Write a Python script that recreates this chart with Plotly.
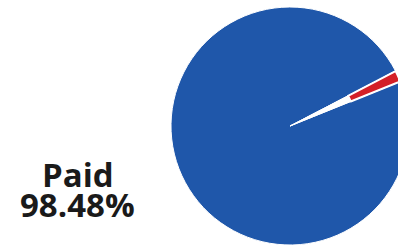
import plotly.graph_objects as go

labels = ["Paid", "Unpaid"]
values = [98.48, 1.52]
colors = ["#1f57aa", "#d42027"]
headline_label = "Paid"
headline_value = "98.48%"

W, H = 410, 247
cx, cy, r = 290, 126, 119
rot = 68

dom_x = [(cx - r) / W, (cx + r) / W]
dom_y = [(H - cy - r) / H, (H - cy + r) / H]

fig = go.Figure()
fig.add_trace(go.Pie(
    labels=labels, values=values, sort=False, direction="clockwise",
    rotation=rot, textinfo="none", hoverinfo="skip", showlegend=False,
    marker=dict(colors=[colors[0], "white"], line=dict(color="white", width=1)),
    domain=dict(x=dom_x, y=dom_y),
))
fig.add_trace(go.Pie(
    labels=labels, values=values, sort=False, direction="clockwise",
    rotation=rot, textinfo="none", hoverinfo="skip", showlegend=False, hole=0.55,
    marker=dict(colors=["rgba(0,0,0,0)", colors[1]],
                line=dict(color=["rgba(0,0,0,0)", "white"], width=[0, 2])),
    domain=dict(x=dom_x, y=dom_y),
))

font = dict(family="Open Sans", size=33, color="#1a1a1a")
fig.add_annotation(text=f"<b>{headline_label}</b>", x=77.5 / W, y=(H - 174) / H,
                   xref="paper", yref="paper", showarrow=False,
                   xanchor="center", yanchor="middle", font=font)
fig.add_annotation(text=f"<b>{headline_value}</b>", x=77.5 / W, y=(H - 204) / H,
                   xref="paper", yref="paper", showarrow=False,
                   xanchor="center", yanchor="middle", font=font)

fig.update_layout(width=W, height=H, margin=dict(l=0, r=0, t=0, b=0),
                  paper_bgcolor="white", plot_bgcolor="white")

fig.write_html("out.html", config={"displayModeBar": False},
               post_script="document.body.style.margin='0';document.body.style.overflow='hidden';")
